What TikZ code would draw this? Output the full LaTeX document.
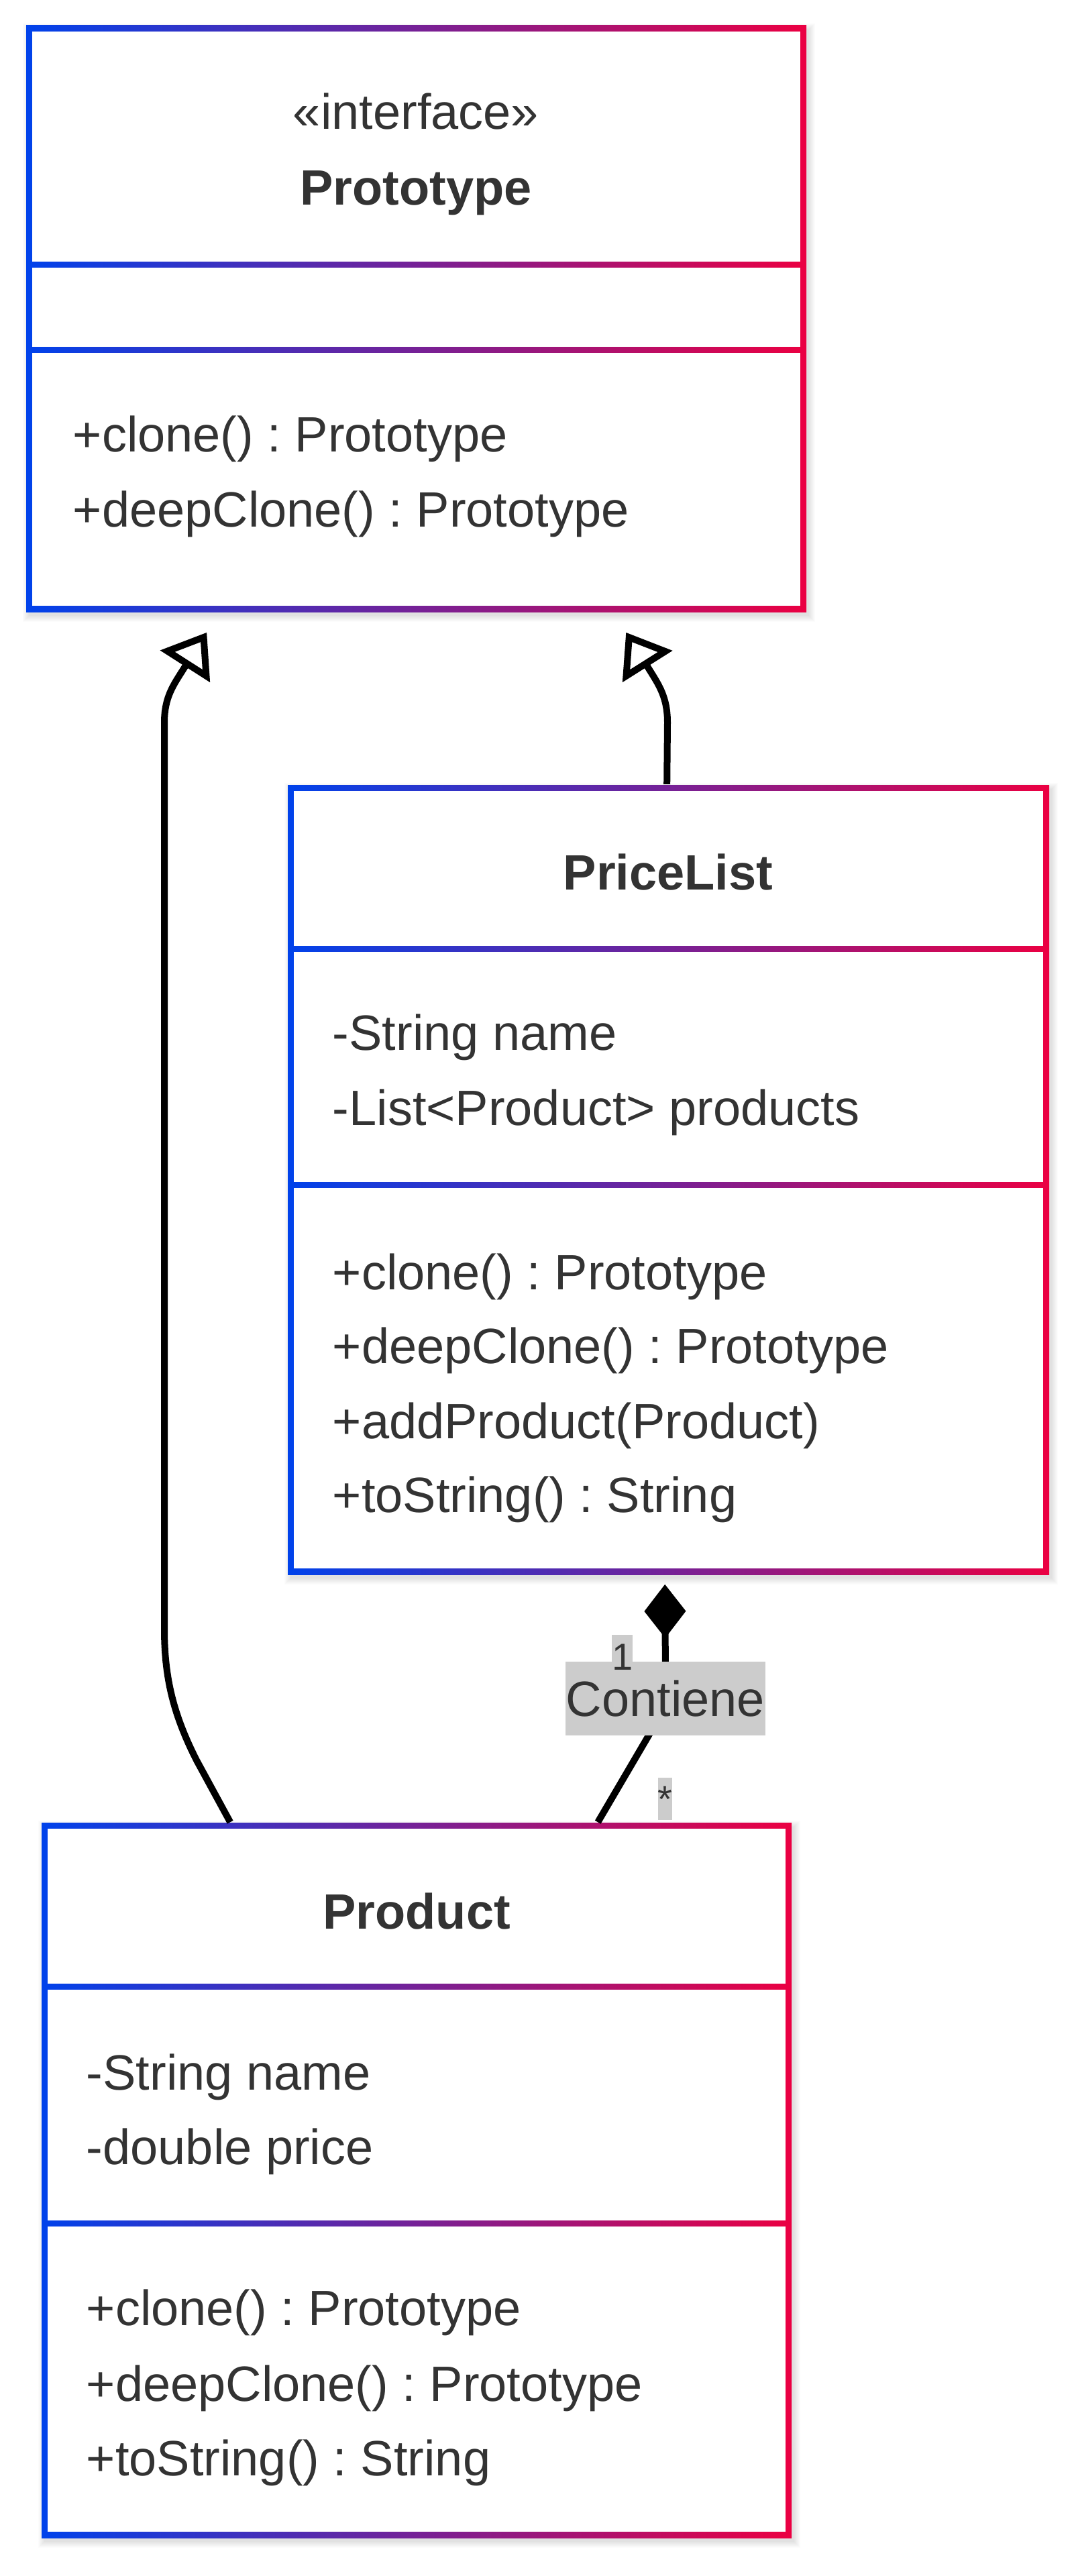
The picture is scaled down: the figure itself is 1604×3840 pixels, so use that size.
\documentclass[tikz,border=0pt]{standalone}
\usepackage{fontspec}
\setmainfont{Liberation Sans}
\usetikzlibrary{arrows.meta,calc,fit}
\frenchspacing
\definecolor{txt}{HTML}{333333}
\definecolor{gA}{HTML}{0042EB}
\definecolor{gB}{HTML}{EB0042}
\definecolor{lab}{HTML}{CCCCCC}
\newcommand\bodyfont{\fontsize{18.5pt}{22pt}\selectfont}
\newcommand\smallfont{\fontsize{14pt}{17pt}\selectfont}
\newcommand\umlshadow[4]{%
  \foreach \k in {0,...,9}{%
    \fill[black,opacity=0.012] (#1+4-\k,#2+6-\k) rectangle (#3+4+\k,#4+6+\k);
  }}
% name, x1, y1, x2, y2, divider1 top, divider2 top
\newcommand\umlbox[7]{%
  \umlshadow{#2}{#3}{#4}{#5}
  \shade[left color=gA, right color=gB] (#2,#3) rectangle (#4,#5);
  \fill[white] (#2+9,#3+9) rectangle (#4-9,#6);
  \fill[white] (#2+9,#6+9) rectangle (#4-9,#7);
  \fill[white] (#2+9,#7+9) rectangle (#4-9,#5-9);
  \coordinate (#1-nw) at (#2,#3);
  \coordinate (#1-se) at (#4,#5);
  \node[fit=(#1-nw)(#1-se), inner sep=0pt] (#1) {};
}
\tikzset{
  mem/.style={anchor=base west, inner sep=0pt, text=txt, font=\bodyfont},
  ttl/.style={anchor=base, inner sep=0pt, text=txt, font=\bodyfont\bfseries},
  stereo/.style={anchor=base, inner sep=0pt, text=txt, font=\bodyfont},
  conn/.style={draw=black, line width=2.5pt, line join=round},
  card/.style={anchor=base, inner sep=0pt, text=txt, font=\smallfont},
  realtip/.style={-{Triangle[open, length=15pt, width=21.5pt, line join=miter]}},
}
\begin{document}
\begin{tikzpicture}[x=0.25pt, y=-0.25pt]
\fill[white] (0,0) rectangle (1604,3840);
\useasboundingbox (0,0) rectangle (1604,3840);

% boxes
\umlbox{Prototype}{39}{38}{1202}{912}{390}{517}
\umlbox{PriceList}{429}{1170}{1564}{2347}{1410}{1762}
\umlbox{Product}{62}{2717}{1180}{3783}{2957}{3310}

% Prototype texts
\node[stereo] (pst) at (620,193) {«interface»};
\node[ttl] (pname) at (620,306) {Prototype};
\node[mem] (pm1) at (108,673) {+clone() : Prototype};
\node[mem] (pm2) at (108,786) {+deepClone() : Prototype};

% PriceList texts
\node[ttl] (lname) at (996,1326) {PriceList};
\node[mem] (la1) at (495,1565) {-String name};
\node[mem] (la2) at (495,1677) {-List<Product> products};
\node[mem] (lm1) at (495,1922) {+clone() : Prototype};
\node[mem] (lm2) at (495,2032) {+deepClone() : Prototype};
\node[mem] (lm3) at (495,2144) {+addProduct(Product)};
\node[mem] (lm4) at (495,2254) {+toString() : String};

% Product texts
\node[ttl] (rname) at (621,2875) {Product};
\node[mem] (ra1) at (128,3115) {-String name};
\node[mem] (ra2) at (128,3226) {-double price};
\node[mem] (rm1) at (128,3466) {+clone() : Prototype};
\node[mem] (rm2) at (128,3579) {+deepClone() : Prototype};
\node[mem] (rm3) at (128,3690) {+toString() : String};

% connector end points
\coordinate (a1s) at ($(Product.north west)+(282,0)$);
\coordinate (a1e) at ($(Prototype.south west)+(270,30)$);
\coordinate (a2s) at ($(PriceList.north west)+(566,0)$);
\coordinate (a2e) at ($(Prototype.south west)+(895,30)$);
\coordinate (cs) at ($(PriceList.south west)+(563,14)$);
\coordinate (ce) at ($(Product.north west)+(830,0)$);

% realization Product -> Prototype
\draw[conn, realtip] (a1s) -- (293,2624)
  .. controls (258,2555) and (245,2500) .. (245,2428) -- (245,1077)
  .. controls (245,1035) and (262,1017) .. (278,990) -- (a1e);
% realization PriceList -> Prototype
\draw[conn, realtip] (a2s) -- (995,1077)
  .. controls (995,1035) and (979,1017) .. (963,990) -- (a2e);
% composition PriceList <>- Product
\draw[conn, {Diamond[length=20pt, width=15.5pt]}-] (cs) -- (992,2500)
  .. controls (992,2540) and (985,2556) .. (967,2587) -- (ce);

% labels
\fill[lab] (912,2437) rectangle (943,2500);
\node[fill=lab, inner sep=0pt, minimum width=74.5pt, minimum height=27.5pt,
      text=txt, font=\bodyfont] (lbl) at (992,2532) {Contiene};
\node[card] (c1) at (928,2489) {1};
\fill[lab] (981,2650) rectangle (1002,2713);
\node[card] (c2) at (991.5,2701) {*};
\end{tikzpicture}
\end{document}
